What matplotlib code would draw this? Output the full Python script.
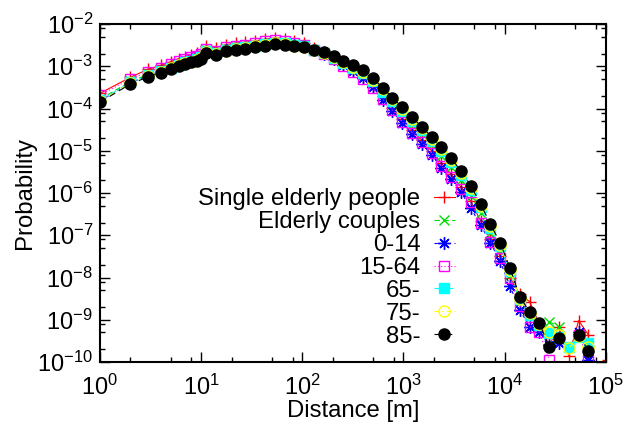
import numpy as np
import matplotlib
matplotlib.use("Agg")
import matplotlib.pyplot as plt
from matplotlib.ticker import LogLocator, NullFormatter

plt.rcParams["font.family"] = ["Liberation Sans", "DejaVu Sans"]
plt.rcParams["mathtext.fontset"] = "custom"
plt.rcParams["mathtext.rm"] = "Liberation Sans"
plt.rcParams["mathtext.it"] = "Liberation Sans:italic"

nan = np.nan

# distance bins [m]: unit bins up to 10, then log bins (factor 1.25)
distance = [1, 2, 3, 4, 5, 6, 7, 8, 9, 10,
            11.2, 14.0, 17.5, 21.9, 27.3, 34.2, 42.7, 53.4, 66.8, 83.4,
            104, 130, 163, 204, 255, 318, 398, 497, 622, 777,
            971, 1214, 1518, 1897, 2372, 2965, 3706, 4632, 5790, 7238,
            9047, 11309, 14137, 17671, 22088, 27610, 34513, 43141, 53927, 67408,
            84260, 105325]

# log10(probability)
single_elderly = [-3.64, -3.26, -3.07, -2.98, -2.89, -2.82, -2.77, -2.73, -2.69, -2.65,
                  -2.52, -2.56, -2.49, -2.45, -2.43, -2.40, -2.36, -2.33, -2.35, -2.40,
                  -2.44, -2.56, -2.67, -2.82, -2.97, -3.11, -3.26, -3.46, -3.71, -3.99,
                  -4.26, -4.52, -4.75, -5.00, -5.29, -5.56, -5.86, -6.20, -6.66, -7.10,
                  -7.50, -8.00, -8.40, -8.57, -9.10, -9.60, -9.16, -9.85, -9.02, -9.36,
                  nan, -9.95]
elderly_couples = [-3.78, -3.36, -3.19, -3.09, -3.01, -2.94, -2.89, -2.85, -2.81, -2.77,
                   -2.63, -2.67, -2.59, -2.55, -2.53, -2.49, -2.45, -2.42, -2.44, -2.48,
                   -2.52, -2.61, -2.69, -2.80, -2.93, -3.06, -3.20, -3.40, -3.65, -3.89,
                   -4.13, -4.38, -4.61, -4.86, -5.12, -5.39, -5.70, -6.06, -6.48, -6.95,
                   -7.38, -7.95, -8.55, -8.90, -9.30, -9.05, -9.16, nan, -9.40, -9.70,
                   nan, nan]
age_0_14 = [-3.82, -3.39, -3.22, -3.12, -3.04, -2.97, -2.92, -2.88, -2.84, -2.80,
            -2.66, -2.70, -2.62, -2.58, -2.56, -2.52, -2.48, -2.45, -2.47, -2.50,
            -2.53, -2.62, -2.70, -2.83, -2.98, -3.12, -3.28, -3.50, -3.79, -4.07,
            -4.34, -4.60, -4.84, -5.10, -5.40, -5.67, -5.98, -6.36, -6.76, -7.18,
            -7.62, -8.20, -8.77, -9.16, -9.30, -9.60, -9.56, nan, -9.28, -9.95,
            nan, nan]
age_15_64 = [-3.68, -3.30, -3.13, -3.03, -2.95, -2.88, -2.83, -2.79, -2.75, -2.71,
             -2.59, -2.63, -2.55, -2.51, -2.49, -2.45, -2.41, -2.38, -2.40, -2.44,
             -2.50, -2.61, -2.71, -2.84, -2.99, -3.13, -3.29, -3.51, -3.78, -4.04,
             -4.31, -4.57, -4.80, -5.06, -5.36, -5.62, -5.91, -6.22, -6.70, -7.15,
             -7.55, -8.02, -8.67, -9.16, -9.30, -9.95, nan, nan, -9.36, -9.95,
             nan, nan]
age_65 = [-3.81, -3.38, -3.21, -3.11, -3.03, -2.96, -2.91, -2.87, -2.83, -2.79,
          -2.65, -2.69, -2.61, -2.57, -2.55, -2.51, -2.47, -2.44, -2.46, -2.50,
          -2.53, -2.61, -2.69, -2.80, -2.92, -3.04, -3.17, -3.36, -3.60, -3.83,
          -4.06, -4.30, -4.52, -4.76, -5.01, -5.27, -5.57, -5.92, -6.34, -6.82,
          -7.26, -7.85, -8.52, -8.88, -9.12, -9.31, -9.40, -9.64, -9.40, -9.55,
          nan, nan]
age_75 = [-3.83, -3.40, -3.23, -3.13, -3.05, -2.98, -2.93, -2.89, -2.85, -2.81,
          -2.67, -2.71, -2.63, -2.59, -2.57, -2.53, -2.49, -2.46, -2.48, -2.51,
          -2.54, -2.61, -2.68, -2.78, -2.89, -3.01, -3.14, -3.32, -3.55, -3.78,
          -4.01, -4.25, -4.47, -4.71, -4.96, -5.22, -5.52, -5.88, -6.31, -6.79,
          -7.22, -7.82, -8.50, -8.85, -9.10, -9.28, -9.35, -9.68, -9.38, -9.64,
          nan, nan]
age_85 = [-3.85, -3.42, -3.25, -3.15, -3.07, -3.00, -2.95, -2.91, -2.87, -2.83,
          -2.69, -2.73, -2.65, -2.61, -2.59, -2.55, -2.51, -2.48, -2.50, -2.53,
          -2.54, -2.61, -2.67, -2.76, -2.87, -2.98, -3.10, -3.28, -3.51, -3.74,
          -3.97, -4.21, -4.43, -4.67, -4.92, -5.18, -5.48, -5.83, -6.26, -6.74,
          -7.18, -7.78, -8.45, -8.82, -9.08, -9.65, -9.42, nan, -9.36, -9.73,
          nan, nan]

labels = ["Single elderly people", "Elderly couples", "0-14", "15-64", "65-", "75-", "85-"]
series = [single_elderly, elderly_couples, age_0_14, age_15_64, age_65, age_75, age_85]

# gnuplot-like point types
styles = [
    dict(color="#ff0000", marker="+", ms=9, ls="-", mfc="#ff0000"),
    dict(color="#00dd00", marker="x", ms=7, ls=(0, (5, 3)), mfc="#00dd00"),
    dict(color="#0000ff", marker=(8, 2, 0), ms=9, ls=(0, (3, 3)), mfc="#0000ff"),
    dict(color="#ff00ff", marker="s", ms=7, ls=(0, (1, 2)), mfc="none"),
    dict(color="#00ffff", marker="s", ms=7, ls=(0, (6, 2, 1, 2)), mfc="#00ffff"),
    dict(color="#ffff00", marker="o", ms=8, ls=(0, (4, 3, 1, 3)), mfc="none"),
    dict(color="#000000", marker="o", ms=8, ls=(0, (6, 4)), mfc="#000000"),
]

fig = plt.figure(figsize=(6.33, 4.24), dpi=100)
ax = fig.add_axes([0.158, 0.1462, 0.799, 0.7972])

x = np.array(distance, dtype=float)
for lab, vals, st in zip(labels, series, styles):
    y = np.power(10.0, np.array(vals, dtype=float))
    ax.plot(x, y, label=lab, lw=0.8, color=st["color"], ls=st["ls"],
            marker=st["marker"], ms=st["ms"], mew=1.0,
            mfc=st["mfc"], mec=st["color"])

ax.set_xscale("log")
ax.set_yscale("log")
ax.set_xlim(1, 1e5)
ax.set_ylim(1e-10, 1e-2)

for axis in (ax.xaxis, ax.yaxis):
    axis.set_major_locator(LogLocator(base=10, numticks=20))
    axis.set_minor_locator(LogLocator(base=10, subs=(2, 5, 8), numticks=20))
    axis.set_minor_formatter(NullFormatter())

ax.tick_params(which="both", direction="in", top=True, right=True, labelsize=17)
ax.tick_params(which="major", length=7, width=1.0)
ax.tick_params(which="minor", length=3.5, width=1.0)
ax.tick_params(axis="x", which="major", pad=9)
ax.tick_params(axis="y", which="major", pad=5)
for sp in ax.spines.values():
    sp.set_linewidth(1.5)

ax.set_xlabel("Distance [m]", fontsize=17.2, labelpad=0)
ax.set_ylabel("Probability", fontsize=17.2, labelpad=1)

ax.legend(markerfirst=False, frameon=False, fontsize=17.2, handlelength=0.9,
          handletextpad=0.55, labelspacing=0.04, borderpad=0, borderaxespad=0,
          loc="upper right", bbox_to_anchor=(455 / 633, 1 - 188 / 424),
          bbox_transform=fig.transFigure)

fig.savefig("out.png", dpi=100)
